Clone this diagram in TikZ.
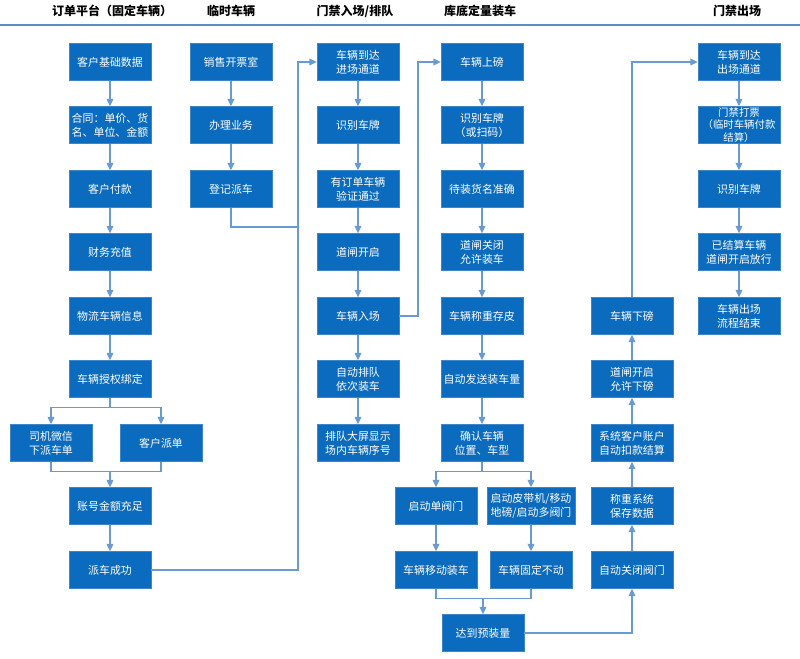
\documentclass[tikz,border=0pt]{standalone}
\usepackage{fontspec}
\newfontfamily\cjk{Noto Sans CJK SC}
\usetikzlibrary{arrows.meta,calc}
\definecolor{boxblue}{HTML}{0B6BBE}
\definecolor{boxedge}{HTML}{3F86C8}
\definecolor{arrblue}{HTML}{6A9BD0}
\definecolor{hdrline}{HTML}{5B8EC5}
\tikzset{
  box/.style={draw=boxedge, line width=0.4pt, fill=boxblue, text=white,
    minimum width=61.5pt, minimum height=27.75pt, inner sep=1pt,
    align=center, font=\cjk\fontsize{8.2}{10.5}\selectfont},
  widebox/.style={box, minimum width=66pt},
  hdr/.style={font=\cjk\bfseries\fontsize{9}{11}\selectfont, text=black},
  ln/.style={draw=arrblue, line width=1pt},
  arr/.style={ln, -{Triangle[length=5.5pt,width=5pt]}}
}
\begin{document}
\begin{tikzpicture}[x=0.75pt,y=-0.75pt]
\useasboundingbox (0,0) rectangle (800,658);
\fill[white] (0,0) rectangle (800,658);
% headers
\node[hdr] (h1) at (112,11) {订单平台（固定车辆）};
\node[hdr] (h2) at (231,11) {临时车辆};
\node[hdr] (h3) at (355,11) {门禁入场/排队};
\node[hdr] (h4) at (480,11) {库底定量装车};
\node[hdr] (h5) at (737,11) {门禁出场};
\coordinate (hl) at (0,25); \coordinate (hr) at (800,25);
\draw[draw=hdrline, line width=1.2pt] (hl) -- (hr);
% column 1
\node[box] (kh) at (110,62) {客户基础数据};
\node[box] (ht) at (110,125) {合同：单价、货\\名、单位、金额};
\node[box] (fk) at (110,189) {客户付款};
\node[box] (cz) at (110,252) {财务充值};
\node[box] (wl) at (110,316) {物流车辆信息};
\node[box] (sq) at (110,379) {车辆授权绑定};
\node[box] (wx) at (51,443) {司机微信\\下派车单};
\node[box] (kp) at (161,443) {客户派单};
\node[box] (zh) at (110,506) {账号金额充足};
\node[box] (pc) at (110,570) {派车成功};
% column 2
\node[box] (xs) at (231,62) {销售开票室};
\node[box] (bl) at (231,125) {办理业务};
\node[box] (dj) at (231,189) {登记派车};
% column 3
\node[box] (jc) at (358,62) {车辆到达\\进场通道};
\node[box] (sb1) at (358,125) {识别车牌};
\node[box] (yz) at (358,189) {有订单车辆\\验证通过};
\node[box] (dk) at (358,252) {道闸开启};
\node[box] (rc) at (358,316) {车辆入场};
\node[box] (pd) at (358,379) {自动排队\\依次装车};
\node[box] (dp) at (358,443) {排队大屏显示\\场内车辆序号};
% column 4
\node[box] (sbang) at (482,62) {车辆上磅};
\node[box] (sb2) at (482,125) {识别车牌\\（或扫码）};
\node[box] (dz) at (482,189) {待装货名准确};
\node[box] (dg) at (482,252) {道闸关闭\\允许装车};
\node[box] (cp) at (482,316) {车辆称重存皮};
\node[box] (fs) at (482,379) {自动发送装车量};
\node[box] (qr) at (482,443) {确认车辆\\位置、车型};
\node[box] (dfm) at (436,506) {启动单阀门};
\node[widebox] (pdj) at (531,506) {启动皮带机/移动\\地磅/启动多阀门};
\node[box] (ydz) at (436,570) {车辆移动装车};
\node[box] (gd) at (531,570) {车辆固定不动};
\node[box] (yzl) at (483,633) {达到预装量};
% column 5
\node[box] (gb) at (632,570) {自动关闭阀门};
\node[box] (bc) at (632,506) {称重系统\\保存数据};
\node[box] (kk) at (632,443) {系统客户账户\\自动扣款结算};
\node[box] (yx) at (632,379) {道闸开启\\允许下磅};
\node[box] (xb) at (632,316) {车辆下磅};
% column 6
\node[box] (cc) at (739,62) {车辆到达\\出场通道};
\node[box, font=\cjk\fontsize{7.8}{9.2}\selectfont, inner sep=0.5pt] (dpiao) at (739,125) {门禁打票\\（临时车辆付款\\结算）};
\node[box] (sb3) at (739,189) {识别车牌};
\node[box] (fx) at (739,252) {已结算车辆\\道闸开启放行};
\node[box] (js) at (739,316) {车辆出场\\流程结束};
% connectors column 1
\draw[arr] (kh) -- (ht);
\draw[arr] (ht) -- (fk);
\draw[arr] (fk) -- (cz);
\draw[arr] (cz) -- (wl);
\draw[arr] (wl) -- (sq);
\draw[arr] (sq.south) -- ++(0,10) -| (wx.north);
\draw[arr] (sq.south) -- ++(0,10) -| (kp.north);
\draw[ln] (wx.south) -- ++(0,10) -| (kp.south);
\coordinate (m1) at (110,472);
\draw[arr] (m1) -- (zh.north);
\draw[arr] (zh) -- (pc);
% column 2
\draw[arr] (xs) -- (bl);
\draw[arr] (bl) -- (dj);
\coordinate (j1) at (298,227);
\draw[ln] (dj.south) |- (j1);
\coordinate (v1) at (298,62);
\draw[arr] (pc.east) -| (v1) -- (jc.west);
% column 3
\draw[arr] (jc) -- (sb1);
\draw[arr] (sb1) -- (yz);
\draw[arr] (yz) -- (dk);
\draw[arr] (dk) -- (rc);
\draw[arr] (rc) -- (pd);
\draw[arr] (pd) -- (dp);
\coordinate (v2) at (418,62);
\draw[arr] (rc.east) -| (v2) -- (sbang.west);
% column 4
\draw[arr] (sbang) -- (sb2);
\draw[arr] (sb2) -- (dz);
\draw[arr] (dz) -- (dg);
\draw[arr] (dg) -- (cp);
\draw[arr] (cp) -- (fs);
\draw[arr] (fs) -- (qr);
\draw[arr] (qr.south) -- ++(0,10) -| (dfm.north);
\draw[arr] (qr.south) -- ++(0,10) -| (pdj.north);
\draw[arr] (dfm) -- (ydz);
\draw[arr] (pdj) -- (gd);
\draw[ln] (ydz.south) -- ++(0,10) -| (gd.south);
\coordinate (m2) at (483,598);
\draw[arr] (m2) -- (yzl.north);
\draw[arr] (yzl.east) -| (gb.south);
% column 5
\draw[arr] (gb) -- (bc);
\draw[arr] (bc) -- (kk);
\draw[arr] (kk) -- (yx);
\draw[arr] (yx) -- (xb);
\draw[arr] (xb.north) |- (cc.west);
% column 6
\draw[arr] (cc) -- (dpiao);
\draw[arr] (dpiao) -- (sb3);
\draw[arr] (sb3) -- (fx);
\draw[arr] (fx) -- (js);
\end{tikzpicture}
\end{document}
